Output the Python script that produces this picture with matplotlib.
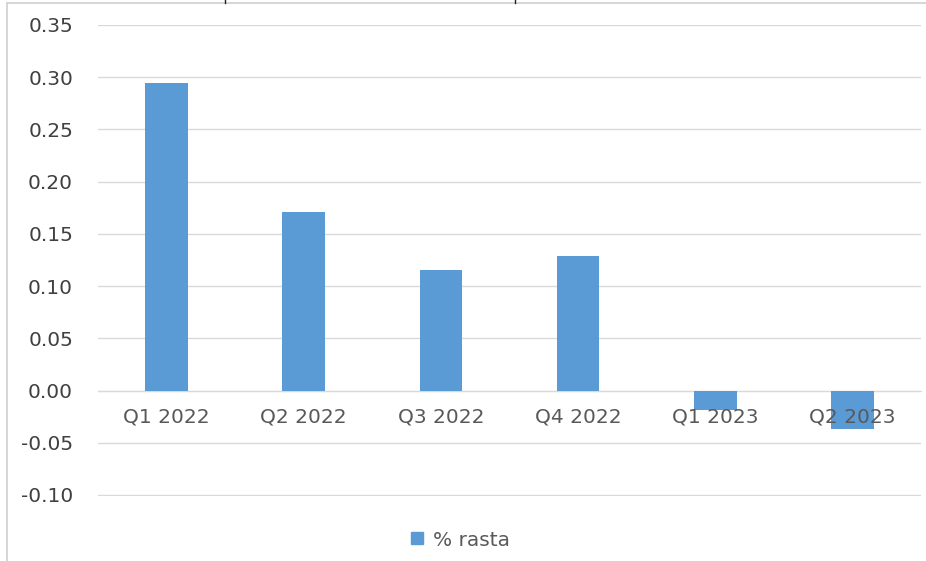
import matplotlib.pyplot as plt
import numpy as np
from matplotlib.lines import Line2D

# data
quarters = ['Q1 2022', 'Q2 2022', 'Q3 2022', 'Q4 2022', 'Q1 2023', 'Q2 2023']
growth = [0.294, 0.171, 0.115, 0.129, -0.019, -0.037]
yticks = [-0.10, -0.05, 0.00, 0.05, 0.10, 0.15, 0.20, 0.25, 0.30, 0.35]

bar_color = '#5B9BD5'
text_color = '#595959'
grid_color = '#D9D9D9'

fig = plt.figure(figsize=(9.26, 5.61), dpi=100)
ax = fig.add_axes([98 / 926, 1 - 496 / 561, (921 - 98) / 926, (496 - 25) / 561])

x = np.arange(len(quarters))
ax.bar(x, growth, width=0.31, color=bar_color, zorder=2, label='% rasta')

ax.set_xlim(-0.5, len(quarters) - 0.5)
ax.set_ylim(-0.101, 0.35)
ax.set_yticks(yticks)
ax.set_yticklabels([f'{v:.2f}' for v in yticks])
ax.yaxis.grid(True, color=grid_color, linewidth=1)
ax.set_axisbelow(True)
ax.yaxis.set_zorder(0.5)
ax.xaxis.set_zorder(4)

for s in ['top', 'right', 'left']:
    ax.spines[s].set_visible(False)
ax.spines['bottom'].set_position(('data', 0))
ax.spines['bottom'].set_color(grid_color)
ax.spines['bottom'].set_zorder(1)

ax.set_xticks(x)
ax.set_xticklabels(quarters)
ax.tick_params(axis='x', length=0, pad=12, labelsize=14.5, labelcolor=text_color)
ax.tick_params(axis='y', length=0, pad=18, labelsize=14.5, labelcolor='#404040')

handle = Line2D([], [], marker='s', linestyle='none', markersize=8,
                color=bar_color)
fig.legend([handle], ['% rasta'], loc='center', bbox_to_anchor=(0.495, 1 - 540 / 561),
           frameon=False, fontsize=14.5, labelcolor=text_color,
           handletextpad=0.3, handlelength=1.0)

# outer border of the chart area (cropped screenshot)
fig.add_artist(Line2D([7 / 926, 7 / 926], [0, 1 - 3 / 561], transform=fig.transFigure,
                      color='#D0D0D0', linewidth=1.2))
fig.add_artist(Line2D([7 / 926, 1], [1 - 3 / 561, 1 - 3 / 561], transform=fig.transFigure,
                      color='#D0D0D0', linewidth=1.2))
for px in [225, 515]:
    fig.add_artist(Line2D([px / 926, px / 926], [1 - 3 / 561, 1], transform=fig.transFigure,
                          color='#202020', linewidth=1))

fig.savefig('out.png', dpi=100)
